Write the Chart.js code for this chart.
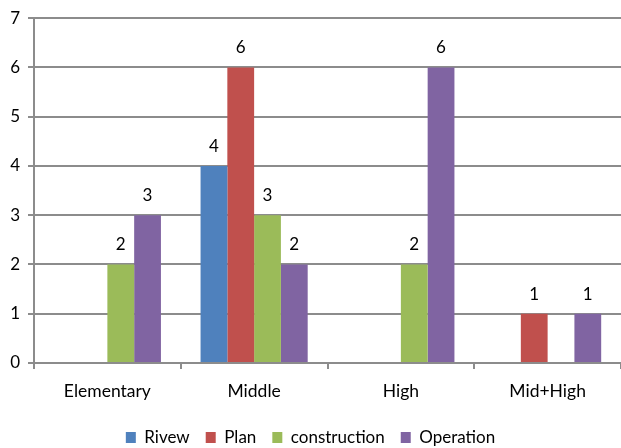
<!DOCTYPE html>
<html><head><meta charset="utf-8">
<script src="https://cdn.jsdelivr.net/npm/chart.js@4/dist/chart.umd.min.js"></script>
<style>html,body{margin:0;padding:0;background:#fff}#wrap{width:621px;height:448px}</style>
</head><body><div id="wrap"><canvas id="c" width="621" height="448"></canvas></div>
<script>
const categories = ['Elementary', 'Middle', 'High', 'Mid+High'];
const seriesNames = ['Rivew', 'Plan', 'construction', 'Operation'];
const rivew = [0, 4, 0, 0];
const plan = [0, 6, 0, 1];
const construction = [2, 3, 2, 0];
const operation = [3, 2, 6, 1];
const yTicks = [0, 1, 2, 3, 4, 5, 6, 7];
const colors = ['#4F81BD', '#C0504D', '#9BBB59', '#8064A2'];
const FONT = 'Lato, "Open Sans", sans-serif';

const valueLabels = {
  id: 'valueLabels',
  afterLayout(chart) {
    const lg = chart.legend;
    if (lg) {
      const shift = 437.5 - (lg.top + lg.options.labels.padding + 8.5);
      lg.top += shift; lg.bottom += shift;
    }
  },
  afterDatasetsDraw(chart) {
    const ctx = chart.ctx;
    ctx.save();
    ctx.font = '17px ' + FONT;
    ctx.fillStyle = '#000';
    ctx.textAlign = 'center';
    ctx.textBaseline = 'bottom';
    chart.data.datasets.forEach((ds, i) => {
      const meta = chart.getDatasetMeta(i);
      meta.data.forEach((bar, j) => {
        const v = ds.data[j];
        if (v) ctx.fillText(String(v), bar.x, bar.y - 11);
      });
    });
    ctx.restore();
  }
};

new Chart(document.getElementById('c'), {
  type: 'bar',
  data: {
    labels: categories,
    datasets: [rivew, plan, construction, operation].map((d, i) => ({
      label: seriesNames[i],
      data: d,
      backgroundColor: colors[i],
      borderWidth: 0,
      barPercentage: 1,
      categoryPercentage: 0.73
    }))
  },
  options: {
    responsive: false,
    animation: false,
    layout: { padding: { top: 17, right: 0, left: 0, bottom: 0 } },
    plugins: {
      tooltip: { enabled: false },
      legend: {
        position: 'bottom',
        labels: {
          font: { family: FONT, size: 17 },
          color: '#000',
          boxWidth: 10,
          boxHeight: 11,
          padding: 16
        }
      }
    },
    scales: {
      x: {
        offset: true,
        grid: { offset: true, drawOnChartArea: false, drawTicks: true, tickLength: 6, color: '#8c8c8c', lineWidth: 2 },
        border: { color: '#8c8c8c', width: 2 },
        ticks: { font: { family: FONT, size: 17.5 }, color: '#000', padding: 12 },
        afterFit(s) { s.height = 42; }
      },
      y: {
        min: 0, max: 7,
        afterBuildTicks(s) { s.ticks = yTicks.map(v => ({ value: v })); },
        grid: { color: '#8c8c8c', lineWidth: 2, tickLength: 6 },
        border: { color: '#8c8c8c', width: 2 },
        ticks: { font: { family: FONT, size: 17 }, color: '#000', padding: 8 },
        afterFit(s) { s.width = 34; }
      }
    }
  },
  plugins: [valueLabels]
});
</script></body></html>
